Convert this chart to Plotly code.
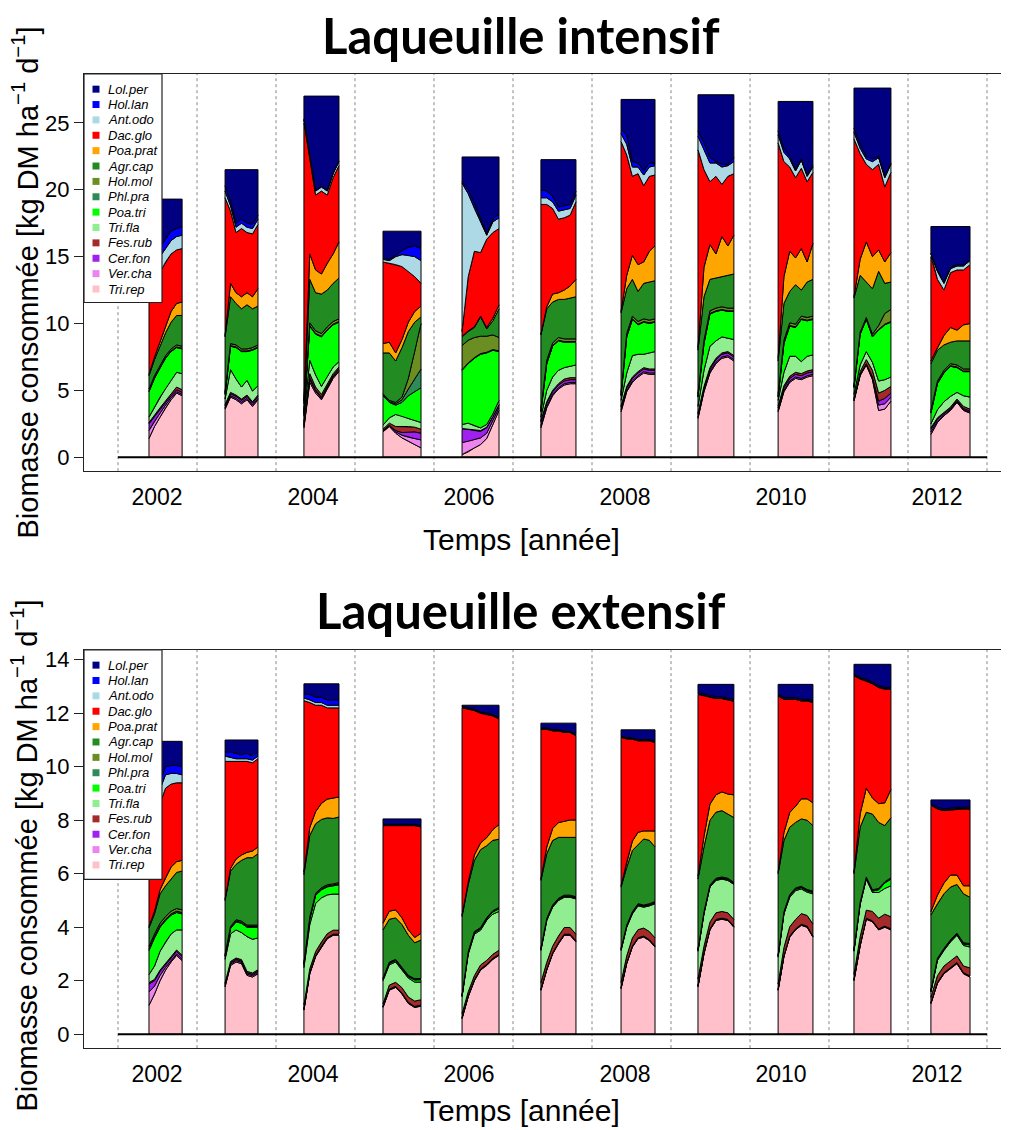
"""
Biomasse consommée par espèce - Laqueuille intensif / extensif.
"""

import numpy as np
import plotly.graph_objects as go

YEARS = list(range(2002, 2013))
TICK_YEARS = [2002, 2004, 2006, 2008, 2010, 2012]

# grazing season bounds (day of year), 7 samples per season
SEASON_START = [145, 136, 140, 145, 150, 154, 164, 159, 169, 159, 154]
SEASON_END = [300, 290, 304, 323, 323, 318, 323, 327, 332, 332, 337]
N_SAMPLES = 7

# year separators drawn as dotted lines
SEPARATORS = [2002.0, 2003.013, 2004.026, 2005.038, 2006.051, 2007.064,
              2008.077, 2009.09, 2010.103, 2011.115, 2012.128, 2013.141]

SPECIES = ['Lol.per', 'Hol.lan', 'Ant.odo', 'Dac.glo', 'Poa.prat', 'Agr.cap', 'Hol.mol',
           'Phl.pra', 'Poa.tri', 'Tri.fla', 'Fes.rub', 'Cer.fon', 'Ver.cha', 'Tri.rep']
COLORS = ['#000080', '#0000FF', '#ADD8E6', '#FF0000', '#FFA500', '#228B22', '#6B8E23',
          '#2E8B57', '#00FF00', '#90EE90', '#A52A2A', '#A020F0', '#EE82EE', '#FFC0CB']

# ---------------- Laqueuille intensif ----------------
# daily total per season (flat top); Lol.per fills the rest
INT_TOTAL = [19.3, 21.5, 27.0, 16.9, 22.45, 22.25, 26.75, 27.1, 26.6, 27.6, 17.25]

INT_TRI_REP = [
    [1.4, 2.3, 3.0, 3.7, 4.3, 4.8, 4.6],
    [3.6, 4.5, 4.3, 4.0, 4.3, 3.8, 4.3],
    [2.2, 5.6, 4.8, 4.3, 5.1, 5.9, 6.4],
    [1.9, 2.3, 1.8, 1.45, 1.2, 0.95, 0.7],
    [0.2, 0.4, 0.7, 0.95, 1.4, 2.4, 3.5],
    [2.2, 3.7, 4.6, 5.1, 5.4, 5.5, 5.5],
    [3.4, 4.9, 5.6, 6.0, 6.3, 6.2, 6.2],
    [2.9, 4.9, 6.3, 7.0, 7.4, 7.5, 7.2],
    [3.4, 4.9, 5.6, 5.9, 5.8, 6.0, 6.1],
    [4.2, 6.1, 6.9, 5.8, 3.5, 3.6, 4.2],
    [1.7, 2.6, 3.1, 3.5, 4.1, 3.5, 3.3],
]
INT_VER_CHA = [
    [0.6, 0.4, 0.3, 0.2, 0.15, 0.1, 0.1],
    [0.1, 0.1, 0.1, 0.1, 0.1, 0.1, 0.1],
    [0.15, 0.2, 0.15, 0.1, 0.1, 0.1, 0.1],
    [0.05, 0.05, 0.1, 0.2, 0.3, 0.45, 0.6],
    [0.9, 0.8, 0.6, 0.5, 0.4, 0.3, 0.2],
    [0.15, 0.1, 0.1, 0.1, 0.1, 0.1, 0.1],
    [0.15, 0.1, 0.1, 0.1, 0.1, 0.1, 0.1],
    [0.1, 0.1, 0.1, 0.1, 0.1, 0.1, 0.1],
    [0.1, 0.1, 0.1, 0.1, 0.1, 0.1, 0.1],
    [0.05, 0.05, 0.05, 0.1, 0.4, 0.4, 0.3],
    [0.2, 0.1, 0.05, 0.05, 0.05, 0.05, 0.05],
]
INT_CER_FON = [
    [0.5, 0.35, 0.25, 0.2, 0.15, 0.15, 0.15],
    [0.15, 0.15, 0.15, 0.15, 0.15, 0.15, 0.15],
    [0.1, 0.15, 0.1, 0.1, 0.1, 0.1, 0.1],
    [0.05, 0.05, 0.1, 0.2, 0.4, 0.5, 0.5],
    [1.0, 0.9, 0.7, 0.5, 0.4, 0.3, 0.2],
    [0.3, 0.25, 0.2, 0.2, 0.2, 0.2, 0.2],
    [0.2, 0.2, 0.2, 0.2, 0.2, 0.2, 0.2],
    [0.2, 0.2, 0.2, 0.2, 0.2, 0.2, 0.2],
    [0.2, 0.2, 0.2, 0.2, 0.2, 0.2, 0.2],
    [0.05, 0.05, 0.05, 0.1, 0.3, 0.4, 0.3],
    [0.2, 0.15, 0.1, 0.1, 0.1, 0.1, 0.1],
]
INT_FES_RUB = [
    [0.1, 0.1, 0.15, 0.15, 0.15, 0.2, 0.2],
    [0.1, 0.1, 0.1, 0.1, 0.1, 0.1, 0.1],
    [0.2, 0.3, 0.2, 0.2, 0.15, 0.15, 0.15],
    [0.1, 0.15, 0.3, 0.45, 0.4, 0.35, 0.3],
    [0.05, 0.05, 0.05, 0.05, 0.05, 0.05, 0.05],
    [0.1, 0.1, 0.1, 0.1, 0.15, 0.15, 0.15],
    [0.1, 0.1, 0.1, 0.1, 0.1, 0.1, 0.1],
    [0.1, 0.1, 0.1, 0.1, 0.1, 0.1, 0.1],
    [0.15, 0.15, 0.15, 0.15, 0.15, 0.15, 0.15],
    [0.1, 0.2, 0.3, 0.5, 0.6, 0.6, 0.5],
    [0.1, 0.1, 0.1, 0.1, 0.1, 0.15, 0.15],
]
INT_TRI_FLA = [
    [0.4, 0.6, 0.8, 0.9, 1.0, 1.1, 1.2],
    [0.4, 1.7, 1.2, 0.9, 1.1, 0.8, 0.7],
    [0.4, 1.0, 0.9, 0.6, 0.6, 0.5, 0.4],
    [0.3, 0.4, 0.9, 0.8, 0.6, 0.5, 0.5],
    [0.3, 0.4, 0.3, 0.2, 0.2, 0.2, 0.3],
    [0.25, 0.85, 1.0, 1.0, 0.85, 0.85, 0.95],
    [0.4, 1.0, 1.6, 1.3, 1.0, 1.2, 1.3],
    [0.5, 1.2, 1.6, 1.3, 1.2, 1.0, 1.2],
    [0.4, 1.0, 1.5, 1.2, 0.9, 1.1, 1.1],
    [0.3, 0.5, 0.6, 0.6, 0.9, 0.8, 0.7],
    [0.3, 0.6, 0.8, 0.8, 0.5, 0.8, 0.9],
]
INT_POA_TRI = [
    [1.9, 2.15, 2.2, 2.25, 2.15, 1.85, 1.85],
    [0.35, 1.75, 2.35, 2.65, 2.15, 3.05, 2.85],
    [0.15, 2.55, 3.05, 3.7, 3.45, 3.15, 2.95],
    [2.2, 1.15, 0.7, 1.0, 1.7, 2.15, 2.6],
    [4.05, 4.45, 5.05, 5.5, 5.35, 4.75, 3.65],
    [0.4, 2.0, 2.3, 2.2, 1.9, 1.8, 1.7],
    [0.35, 2.7, 2.7, 2.2, 2.4, 2.2, 2.2],
    [0.7, 2.0, 2.4, 2.2, 2.0, 2.0, 2.1],
    [0.25, 2.15, 2.25, 2.15, 3.15, 2.65, 2.65],
    [0.5, 2.3, 2.4, 1.9, 3.8, 4.1, 4.1],
    [0.8, 1.95, 2.15, 2.25, 1.85, 1.8, 1.9],
]
INT_PHL_PRA = [
    [0.05, 0.05, 0.05, 0.05, 0.05, 0.05, 0.05],
    [0.05, 0.05, 0.05, 0.05, 0.05, 0.05, 0.05],
    [0.05, 0.05, 0.05, 0.05, 0.05, 0.05, 0.05],
    [0.05, 0.05, 0.1, 0.2, 0.5, 1.0, 1.4],
    [0.05, 0.05, 0.05, 0.05, 0.05, 0.05, 0.05],
    [0.05, 0.05, 0.05, 0.05, 0.05, 0.05, 0.05],
    [0.05, 0.05, 0.05, 0.05, 0.05, 0.05, 0.05],
    [0.05, 0.05, 0.05, 0.05, 0.05, 0.05, 0.05],
    [0.05, 0.05, 0.05, 0.05, 0.05, 0.05, 0.05],
    [0.05, 0.05, 0.05, 0.05, 0.05, 0.05, 0.05],
    [0.05, 0.05, 0.05, 0.05, 0.05, 0.05, 0.05],
]
INT_HOL_MOL = [
    [0.15, 0.15, 0.15, 0.15, 0.15, 0.15, 0.15],
    [0.15, 0.15, 0.15, 0.15, 0.15, 0.15, 0.15],
    [0.2, 0.2, 0.2, 0.2, 0.2, 0.2, 0.2],
    [0.1, 0.1, 0.1, 0.2, 0.8, 2.0, 3.4],
    [1.8, 1.7, 1.5, 1.3, 1.2, 1.1, 1.0],
    [0.2, 0.2, 0.2, 0.2, 0.2, 0.2, 0.2],
    [0.2, 0.2, 0.2, 0.2, 0.2, 0.2, 0.2],
    [0.2, 0.2, 0.2, 0.2, 0.2, 0.2, 0.2],
    [0.2, 0.2, 0.2, 0.2, 0.2, 0.2, 0.2],
    [0.1, 0.1, 0.1, 0.15, 0.3, 0.8, 0.9],
    [0.15, 0.15, 0.15, 0.15, 0.15, 0.15, 0.15],
]
INT_AGR_CAP = [
    [1.0, 1.2, 1.4, 1.7, 2.0, 2.2, 2.3],
    [4.1, 3.5, 3.1, 3.0, 3.3, 2.9, 2.9],
    [0.55, 3.25, 2.85, 2.95, 2.75, 2.85, 3.05],
    [3.05, 3.55, 3.1, 3.7, 3.5, 2.2, 0.5],
    [0.65, 0.65, 0.75, 1.45, 0.55, 1.05, 2.15],
    [5.5, 3.85, 3.05, 2.85, 2.95, 3.05, 3.15],
    [5.95, 3.35, 2.75, 2.25, 2.65, 2.85, 2.85],
    [3.25, 3.25, 2.35, 2.25, 2.25, 2.45, 2.55],
    [2.45, 2.75, 2.35, 2.95, 1.95, 2.65, 2.75],
    [6.55, 4.25, 2.65, 3.4, 4.05, 2.25, 2.05],
    [3.5, 2.3, 1.9, 1.6, 1.8, 2.1, 2.1],
]
INT_POA_PRAT = [
    [0.1, 0.2, 0.3, 0.5, 0.8, 0.9, 1.0],
    [0.1, 1.0, 0.8, 0.9, 0.9, 0.9, 1.3],
    [0.2, 1.9, 1.7, 1.5, 2.0, 2.2, 2.7],
    [0.7, 0.8, 0.6, 0.6, 0.7, 0.8, 0.8],
    [0.05, 0.05, 0.05, 0.05, 0.1, 0.2, 0.3],
    [0.05, 0.15, 0.6, 0.5, 0.7, 0.9, 1.3],
    [0.1, 1.0, 1.8, 2.0, 1.6, 2.3, 2.6],
    [0.2, 2.2, 2.6, 1.8, 3.0, 2.2, 2.9],
    [0.2, 2.0, 3.0, 2.0, 3.1, 1.5, 2.7],
    [0.1, 1.2, 3.0, 2.4, 1.6, 1.6, 2.2],
    [0.2, 0.2, 0.7, 1.1, 0.8, 1.2, 1.3],
]
INT_DAC_GLO = [
    [6.3, 5.7, 5.2, 4.8, 4.3, 4.0, 4.0],
    [10.3, 5.4, 4.5, 5.1, 4.5, 4.7, 4.8],
    [20.8, 7.1, 5.6, 6.2, 5.1, 5.7, 5.7],
    [6.1, 5.9, 6.6, 5.45, 3.8, 2.6, 1.7],
    [0.35, 4.05, 5.65, 4.75, 6.6, 6.4, 5.7],
    [9.7, 7.65, 6.4, 5.5, 5.4, 5.3, 5.8],
    [12.7, 9.0, 5.9, 6.8, 5.7, 5.6, 5.3],
    [14.8, 7.3, 4.7, 5.8, 3.9, 5.2, 4.6],
    [16.1, 8.6, 6.3, 6.0, 6.0, 6.0, 5.3],
    [11.8, 7.9, 5.8, 6.5, 6.4, 5.6, 6.0],
    [7.8, 5.1, 3.4, 4.1, 4.5, 4.1, 4.4],
]
INT_ANT_ODO = [
    [1.5, 1.3, 1.2, 1.0, 1.0, 1.0, 1.0],
    [0.5, 0.4, 0.4, 0.4, 0.4, 0.4, 0.4],
    [0.2, 0.3, 0.3, 0.3, 0.3, 0.3, 0.3],
    [0.2, 0.2, 0.6, 0.9, 1.2, 1.5, 1.7],
    [11.1, 6.2, 3.2, 2.3, 0.3, 0.8, 0.8],
    [0.5, 0.5, 0.5, 0.6, 0.6, 0.5, 0.5],
    [0.6, 0.8, 0.7, 0.5, 0.8, 0.7, 0.7],
    [1.0, 1.5, 1.4, 1.0, 1.3, 0.8, 0.9],
    [0.6, 0.7, 0.6, 0.5, 0.6, 0.4, 0.4],
    [0.5, 0.4, 0.4, 0.6, 0.5, 0.7, 0.6],
    [0.2, 0.6, 0.5, 0.3, 0.3, 0.3, 0.3],
]
INT_HOL_LAN = [
    [0.7, 0.7, 0.7, 0.7, 0.7, 0.6, 0.6],
    [0.4, 0.35, 0.3, 0.3, 0.3, 0.3, 0.3],
    [0.1, 0.1, 0.05, 0.05, 0.05, 0.05, 0.05],
    [0.15, 0.1, 0.1, 0.3, 0.6, 0.8, 0.9],
    [0.1, 0.3, 0.4, 0.3, 0.1, 0.2, 0.3],
    [0.6, 0.5, 0.4, 0.3, 0.3, 0.3, 0.3],
    [0.3, 0.7, 0.4, 0.3, 0.3, 0.3, 0.2],
    [0.4, 0.5, 0.4, 0.1, 0.2, 0.1, 0.3],
    [0.3, 0.3, 0.2, 0.1, 0.1, 0.1, 0.1],
    [0.3, 0.3, 0.2, 0.2, 0.1, 0.1, 0.1],
    [0.05, 0.05, 0.1, 0.1, 0.1, 0.1, 0.1],
]

# ---------------- Laqueuille extensif ----------------
EXT_TOTAL = [10.95, 11.0, 13.1, 8.05, 12.3, 11.63, 11.38, 13.08, 13.08, 13.83, 8.76]

EXT_TRI_REP = [
    [1.08, 1.5, 2.0, 2.4, 2.7, 2.95, 2.75],
    [1.77, 2.57, 2.7, 2.64, 2.2, 2.14, 2.26],
    [0.9, 2.26, 2.9, 3.26, 3.57, 3.7, 3.7],
    [1.0, 1.65, 1.75, 1.5, 1.15, 1.0, 1.05],
    [0.58, 1.4, 2.0, 2.4, 2.57, 2.8, 2.95],
    [1.64, 2.4, 3.0, 3.38, 3.7, 3.7, 3.45],
    [1.7, 2.64, 3.26, 3.57, 3.63, 3.5, 3.26],
    [1.77, 3.0, 3.9, 4.25, 4.3, 4.25, 4.0],
    [1.64, 2.9, 3.63, 3.9, 4.07, 4.0, 3.63],
    [2.0, 3.3, 4.3, 4.2, 3.9, 4.0, 3.9],
    [1.14, 1.9, 2.26, 2.45, 2.64, 2.26, 2.14],
]
EXT_VER_CHA = [
    [0.5, 0.3, 0.2, 0.1, 0.05, 0.05, 0.05],
    [0.05, 0.05, 0.05, 0.05, 0.05, 0.05, 0.05],
    [0.02, 0.02, 0.02, 0.02, 0.02, 0.02, 0.02],
    [0.02, 0.02, 0.02, 0.02, 0.02, 0.02, 0.02],
    [0.02, 0.02, 0.02, 0.02, 0.02, 0.02, 0.02],
    [0.02, 0.02, 0.02, 0.02, 0.02, 0.02, 0.02],
    [0.02, 0.02, 0.02, 0.02, 0.02, 0.02, 0.02],
    [0.02, 0.02, 0.02, 0.02, 0.02, 0.02, 0.02],
    [0.02, 0.02, 0.02, 0.02, 0.02, 0.02, 0.02],
    [0.02, 0.02, 0.02, 0.02, 0.02, 0.02, 0.02],
    [0.02, 0.02, 0.02, 0.02, 0.02, 0.02, 0.02],
]
EXT_CER_FON = [
    [0.3, 0.2, 0.15, 0.1, 0.1, 0.1, 0.1],
    [0.05, 0.05, 0.05, 0.05, 0.05, 0.05, 0.05],
    [0.02, 0.02, 0.02, 0.02, 0.02, 0.02, 0.02],
    [0.02, 0.02, 0.02, 0.02, 0.02, 0.02, 0.02],
    [0.02, 0.02, 0.02, 0.02, 0.02, 0.02, 0.02],
    [0.02, 0.02, 0.02, 0.02, 0.02, 0.02, 0.02],
    [0.02, 0.02, 0.02, 0.02, 0.02, 0.02, 0.02],
    [0.02, 0.02, 0.02, 0.02, 0.02, 0.02, 0.02],
    [0.02, 0.02, 0.02, 0.02, 0.02, 0.02, 0.02],
    [0.02, 0.02, 0.02, 0.02, 0.02, 0.02, 0.02],
    [0.02, 0.02, 0.02, 0.02, 0.02, 0.02, 0.02],
]
EXT_FES_RUB = [
    [0.05, 0.05, 0.05, 0.05, 0.05, 0.05, 0.05],
    [0.05, 0.05, 0.05, 0.05, 0.05, 0.05, 0.05],
    [0.15, 0.15, 0.15, 0.15, 0.15, 0.15, 0.15],
    [0.1, 0.15, 0.15, 0.2, 0.2, 0.2, 0.2],
    [0.15, 0.15, 0.15, 0.15, 0.15, 0.15, 0.15],
    [0.25, 0.25, 0.25, 0.25, 0.25, 0.25, 0.25],
    [0.2, 0.25, 0.3, 0.3, 0.3, 0.3, 0.3],
    [0.25, 0.25, 0.25, 0.25, 0.25, 0.25, 0.25],
    [0.2, 0.3, 0.35, 0.35, 0.4, 0.4, 0.45],
    [0.2, 0.3, 0.3, 0.35, 0.4, 0.45, 0.45],
    [0.2, 0.25, 0.25, 0.25, 0.25, 0.25, 0.3],
]
EXT_TRI_FLA = [
    [0.3, 0.5, 0.7, 0.8, 0.85, 0.75, 0.95],
    [0.88, 1.03, 1.05, 1.01, 1.3, 1.26, 1.19],
    [1.4, 1.65, 1.8, 1.65, 1.45, 1.35, 1.35],
    [0.86, 0.76, 0.76, 0.66, 0.71, 0.71, 0.66],
    [0.63, 1.4, 1.55, 1.3, 1.5, 1.5, 1.45],
    [1.2, 1.56, 1.46, 1.33, 1.13, 1.13, 1.32],
    [1.19, 1.07, 0.9, 0.89, 0.78, 0.96, 1.28],
    [1.04, 1.21, 1.31, 1.21, 1.21, 1.21, 1.31],
    [1.0, 1.26, 1.1, 1.08, 0.92, 0.87, 1.13],
    [0.86, 1.21, 1.16, 0.71, 0.96, 0.96, 1.16],
    [0.2, 0.57, 0.58, 0.71, 0.77, 0.77, 0.78],
]
EXT_POA_TRI = [
    [0.9, 1.05, 0.9, 0.8, 0.7, 0.65, 0.6],
    [0.1, 0.2, 0.3, 0.35, 0.35, 0.45, 0.4],
    [0.1, 0.2, 0.3, 0.3, 0.3, 0.3, 0.35],
    [0.05, 0.05, 0.05, 0.05, 0.05, 0.08, 0.08],
    [0.02, 0.05, 0.05, 0.05, 0.05, 0.08, 0.1],
    [0.03, 0.03, 0.03, 0.03, 0.03, 0.03, 0.03],
    [0.03, 0.03, 0.03, 0.03, 0.03, 0.03, 0.03],
    [0.03, 0.03, 0.03, 0.03, 0.03, 0.03, 0.03],
    [0.03, 0.03, 0.05, 0.05, 0.05, 0.05, 0.05],
    [0.03, 0.03, 0.03, 0.05, 0.1, 0.2, 0.25],
    [0.02, 0.03, 0.03, 0.03, 0.03, 0.05, 0.08],
]
EXT_PHL_PRA = [
    [0.05, 0.05, 0.05, 0.05, 0.05, 0.05, 0.05],
    [0.03, 0.03, 0.03, 0.03, 0.03, 0.03, 0.03],
    [0.03, 0.03, 0.03, 0.03, 0.03, 0.03, 0.03],
    [0.02, 0.02, 0.02, 0.02, 0.02, 0.02, 0.02],
    [0.02, 0.02, 0.02, 0.02, 0.02, 0.02, 0.02],
    [0.02, 0.02, 0.02, 0.02, 0.02, 0.02, 0.02],
    [0.02, 0.02, 0.02, 0.02, 0.02, 0.02, 0.02],
    [0.02, 0.02, 0.02, 0.02, 0.02, 0.02, 0.02],
    [0.02, 0.02, 0.02, 0.02, 0.02, 0.02, 0.02],
    [0.02, 0.02, 0.02, 0.02, 0.02, 0.02, 0.02],
    [0.02, 0.02, 0.02, 0.02, 0.02, 0.02, 0.02],
]
EXT_HOL_MOL = [
    [0.1, 0.1, 0.1, 0.1, 0.1, 0.1, 0.1],
    [0.05, 0.05, 0.05, 0.05, 0.05, 0.05, 0.05],
    [0.05, 0.05, 0.05, 0.05, 0.05, 0.05, 0.05],
    [0.03, 0.03, 0.03, 0.03, 0.03, 0.03, 0.03],
    [0.03, 0.03, 0.03, 0.03, 0.03, 0.03, 0.03],
    [0.03, 0.03, 0.03, 0.03, 0.03, 0.03, 0.03],
    [0.03, 0.03, 0.03, 0.03, 0.03, 0.03, 0.03],
    [0.03, 0.03, 0.03, 0.03, 0.03, 0.03, 0.03],
    [0.03, 0.03, 0.03, 0.03, 0.03, 0.03, 0.03],
    [0.03, 0.03, 0.03, 0.03, 0.03, 0.03, 0.03],
    [0.03, 0.03, 0.03, 0.03, 0.03, 0.03, 0.03],
]
EXT_AGR_CAP = [
    [0.7, 0.75, 1.1, 1.15, 1.2, 1.35, 1.45],
    [2.02, 2.07, 2.07, 2.27, 2.52, 2.52, 2.67],
    [3.3, 3.05, 2.6, 2.55, 2.5, 2.45, 2.45],
    [1.8, 1.6, 1.55, 1.6, 1.5, 1.34, 1.44],
    [2.93, 2.51, 2.66, 2.91, 2.69, 2.63, 2.55],
    [2.54, 2.42, 2.41, 2.28, 2.16, 2.16, 2.22],
    [2.29, 2.16, 2.29, 2.22, 2.47, 2.37, 2.04],
    [2.62, 2.42, 2.42, 2.47, 2.48, 2.4, 2.42],
    [3.04, 2.66, 2.52, 2.45, 2.52, 2.59, 2.45],
    [2.82, 2.81, 2.42, 2.83, 2.47, 2.1, 2.25],
    [2.81, 2.04, 2.04, 1.97, 1.82, 1.83, 1.73],
]
EXT_POA_PRAT = [
    [0.05, 0.1, 0.15, 0.3, 0.45, 0.4, 0.4],
    [0.05, 0.1, 0.2, 0.2, 0.2, 0.25, 0.25],
    [0.1, 0.3, 0.45, 0.6, 0.7, 0.75, 0.75],
    [0.25, 0.3, 0.3, 0.25, 0.2, 0.2, 0.25],
    [0.05, 0.1, 0.2, 0.25, 0.3, 0.4, 0.55],
    [0.05, 0.25, 0.45, 0.55, 0.6, 0.65, 0.65],
    [0.05, 0.2, 0.35, 0.45, 0.3, 0.35, 0.6],
    [0.1, 0.4, 0.6, 0.65, 0.7, 0.75, 0.85],
    [0.05, 0.3, 0.55, 0.6, 0.75, 0.8, 0.85],
    [0.05, 0.5, 0.9, 0.6, 0.7, 0.85, 1.05],
    [0.12, 0.32, 0.4, 0.45, 0.35, 0.3, 0.43],
]
EXT_DAC_GLO = [
    [3.45, 3.4, 3.2, 3.35, 3.1, 2.95, 2.9],
    [5.15, 4.0, 3.65, 3.5, 3.4, 3.3, 3.3],
    [6.4, 4.67, 3.98, 3.67, 3.41, 3.38, 3.33],
    [3.65, 3.2, 3.15, 3.45, 3.9, 4.18, 3.98],
    [7.75, 6.45, 5.4, 4.85, 4.6, 4.25, 3.95],
    [5.6, 4.4, 3.65, 3.43, 3.32, 3.27, 3.15],
    [5.55, 4.6, 3.81, 3.42, 3.37, 3.37, 3.3],
    [6.8, 5.25, 4.0, 3.6, 3.49, 3.52, 3.5],
    [6.6, 4.98, 4.23, 4.0, 3.66, 3.66, 3.75],
    [7.35, 5.03, 4.0, 4.27, 4.34, 4.25, 3.75],
    [3.98, 3.22, 2.71, 2.43, 2.47, 2.87, 2.87],
]
EXT_ANT_ODO = [
    [0.6, 0.6, 0.55, 0.5, 0.4, 0.35, 0.3],
    [0.2, 0.15, 0.1, 0.1, 0.1, 0.1, 0.1],
    [0.1, 0.1, 0.1, 0.1, 0.1, 0.1, 0.1],
    [0.02, 0.02, 0.02, 0.02, 0.02, 0.02, 0.02],
    [0.02, 0.02, 0.02, 0.02, 0.02, 0.02, 0.02],
    [0.02, 0.02, 0.02, 0.02, 0.02, 0.02, 0.02],
    [0.02, 0.02, 0.02, 0.02, 0.02, 0.02, 0.02],
    [0.02, 0.02, 0.02, 0.02, 0.02, 0.02, 0.02],
    [0.02, 0.02, 0.02, 0.02, 0.02, 0.02, 0.02],
    [0.02, 0.02, 0.02, 0.02, 0.02, 0.02, 0.02],
    [0.02, 0.02, 0.02, 0.02, 0.02, 0.02, 0.02],
]
EXT_HOL_LAN = [
    [0.3, 0.3, 0.3, 0.3, 0.3, 0.3, 0.3],
    [0.15, 0.2, 0.2, 0.15, 0.2, 0.15, 0.15],
    [0.15, 0.2, 0.2, 0.2, 0.2, 0.2, 0.2],
    [0.03, 0.03, 0.03, 0.03, 0.03, 0.03, 0.03],
    [0.03, 0.03, 0.03, 0.03, 0.03, 0.03, 0.03],
    [0.03, 0.03, 0.03, 0.03, 0.03, 0.03, 0.03],
    [0.03, 0.03, 0.03, 0.03, 0.03, 0.03, 0.03],
    [0.05, 0.05, 0.05, 0.05, 0.05, 0.05, 0.05],
    [0.05, 0.05, 0.05, 0.05, 0.05, 0.05, 0.05],
    [0.05, 0.05, 0.05, 0.05, 0.05, 0.05, 0.05],
    [0.05, 0.05, 0.05, 0.05, 0.05, 0.05, 0.05],
]

# stacking order, bottom to top (Lol.per is the remainder up to the total)
INT_LAYERS = [INT_TRI_REP, INT_VER_CHA, INT_CER_FON, INT_FES_RUB, INT_TRI_FLA, INT_POA_TRI,
              INT_PHL_PRA, INT_HOL_MOL, INT_AGR_CAP, INT_POA_PRAT, INT_DAC_GLO, INT_ANT_ODO,
              INT_HOL_LAN]
EXT_LAYERS = [EXT_TRI_REP, EXT_VER_CHA, EXT_CER_FON, EXT_FES_RUB, EXT_TRI_FLA, EXT_POA_TRI,
              EXT_PHL_PRA, EXT_HOL_MOL, EXT_AGR_CAP, EXT_POA_PRAT, EXT_DAC_GLO, EXT_ANT_ODO,
              EXT_HOL_LAN]

# the page body adds an 8px margin, so the figure is drawn 8px smaller and offset
PAGE_OFF = 8
W, H = 1009 - PAGE_OFF, 1130 - PAGE_OFF
PLOT_LEFT = 84
MARGIN_L = PLOT_LEFT - PAGE_OFF
FONT = "Liberation Sans, Arial, Helvetica, sans-serif"


def px_x(px):
    # page pixel -> paper x
    return (px - PAGE_OFF - MARGIN_L) / (W - MARGIN_L)


def px_y(py):
    # page pixel -> paper y
    return 1 - (py - PAGE_OFF) / H


def add_panel(fig, layers, total, xa, ya):
    """Draw the stacked season polygons of one panel."""
    stack = [np.array(layer, dtype=float) for layer in layers]
    lol = np.array(total, dtype=float)[:, None] - sum(stack)
    stack.append(lol)

    names = SPECIES[::-1]
    colors = COLORS[::-1]
    lower = np.zeros_like(stack[0])
    for name, color, thick in zip(names, colors, stack):
        upper = lower + thick
        xs, ys = [], []
        for i, yr in enumerate(YEARS):
            t = yr + np.linspace(SEASON_START[i], SEASON_END[i], N_SAMPLES) / 365.0
            xs += list(t) + list(t[::-1]) + [t[0], None]
            ys += list(upper[i]) + list(lower[i][::-1]) + [upper[i][0], None]
        fig.add_trace(go.Scatter(
            x=xs, y=ys, mode='lines', fill='toself', fillcolor=color,
            line=dict(color='black', width=1),
            name=name, hoverinfo='skip', showlegend=False,
            xaxis=xa, yaxis=ya
        ))
        lower = upper


fig = go.Figure()
add_panel(fig, INT_LAYERS, INT_TOTAL, 'x', 'y')
add_panel(fig, EXT_LAYERS, EXT_TOTAL, 'x2', 'y2')

xaxis_common = dict(
    range=[2001.564, 2013.423], showgrid=False, zeroline=False,
    showline=True, mirror=True, linecolor='#222', linewidth=1.2,
    tickvals=[y + 0.5 for y in TICK_YEARS], ticktext=[str(y) for y in TICK_YEARS],
    ticks='outside', ticklen=5, tickcolor='rgba(0,0,0,0)',
    tickfont=dict(family=FONT, size=23, color='black'),
)
yaxis_common = dict(
    showgrid=False, zeroline=False, showline=True, linecolor='#222', linewidth=1.2,
    ticks='outside', ticklen=9, tickcolor='#222',
    tickfont=dict(family=FONT, size=22, color='black'),
)

fig.update_layout(
    width=W, height=H,
    margin=dict(l=MARGIN_L, r=0, t=0, b=0),
    plot_bgcolor='white', paper_bgcolor='white',
    xaxis=dict(domain=[0, 1], anchor='y', **xaxis_common),
    yaxis=dict(domain=[px_y(470), px_y(72)], anchor='x', range=[-1.04, 28.66],
               tickvals=[0, 5, 10, 15, 20, 25], **yaxis_common),
    xaxis2=dict(domain=[0, 1], anchor='y2', **xaxis_common),
    yaxis2=dict(domain=[px_y(1048), px_y(649)], anchor='x2', range=[-0.52, 14.37],
                tickvals=[0, 2, 4, 6, 8, 10, 12, 14], **yaxis_common),
)

shapes = []
annotations = []
panels = [
    ('x', 'y', 'Laqueuille intensif', 33, 281, 538, 72, 301),
    ('x2', 'y2', 'Laqueuille extensif', 609, 855, 1110, 649, 879),
]
for xa, ya, title, title_y, ytitle_y, xtitle_y, box_top, box_bottom in panels:
    # year separators
    for s in SEPARATORS:
        shapes.append(dict(type='line', xref=xa, yref=ya + ' domain', x0=s, x1=s, y0=0, y1=1,
                           line=dict(color='#888', width=1, dash='dot'), layer='below'))
    # zero line
    shapes.append(dict(type='line', xref=xa, yref=ya, x0=SEPARATORS[0], x1=SEPARATORS[-1],
                       y0=0, y1=0, line=dict(color='black', width=2), layer='above'))
    # legend box
    shapes.append(dict(type='rect', xref='paper', yref='paper',
                       x0=px_x(84), x1=px_x(162), y0=px_y(box_bottom), y1=px_y(box_top),
                       fillcolor='white', line=dict(color='#222', width=1.2), layer='above'))
    for i, (name, color) in enumerate(zip(SPECIES, COLORS)):
        cy = box_top + 15.3 + 15.4 * i
        shapes.append(dict(type='rect', xref='paper', yref='paper',
                           x0=px_x(92.5), x1=px_x(99.5), y0=px_y(cy + 3.5), y1=px_y(cy - 3.5),
                           fillcolor=color, line=dict(width=0), layer='above'))
        annotations.append(dict(xref='paper', yref='paper', x=px_x(106), y=px_y(cy),
                                text='<i>%s</i>' % name, showarrow=False,
                                xanchor='left', yanchor='middle',
                                font=dict(family=FONT, size=13, color='black')))
    # titles
    annotations.append(dict(xref='paper', yref='paper', x=px_x(521), y=px_y(title_y),
                            text='<b>%s</b>' % title, showarrow=False,
                            xanchor='center', yanchor='middle',
                            font=dict(family='Lato, Open Sans, sans-serif', size=49, color='black')))
    annotations.append(dict(xref='paper', yref='paper', x=px_x(25), y=px_y(ytitle_y),
                            text='Biomasse consommée [kg DM ha<sup>\u22121</sup> d<sup>\u22121</sup>]',
                            textangle=-90, showarrow=False,
                            xanchor='center', yanchor='middle',
                            font=dict(family=FONT, size=29, color='black')))
    annotations.append(dict(xref='paper', yref='paper', x=px_x(521), y=px_y(xtitle_y),
                            text='Temps [année]', showarrow=False,
                            xanchor='center', yanchor='middle',
                            font=dict(family=FONT, size=30, color='black')))

fig.update_layout(shapes=shapes, annotations=annotations)

fig.write_html("out.html")
